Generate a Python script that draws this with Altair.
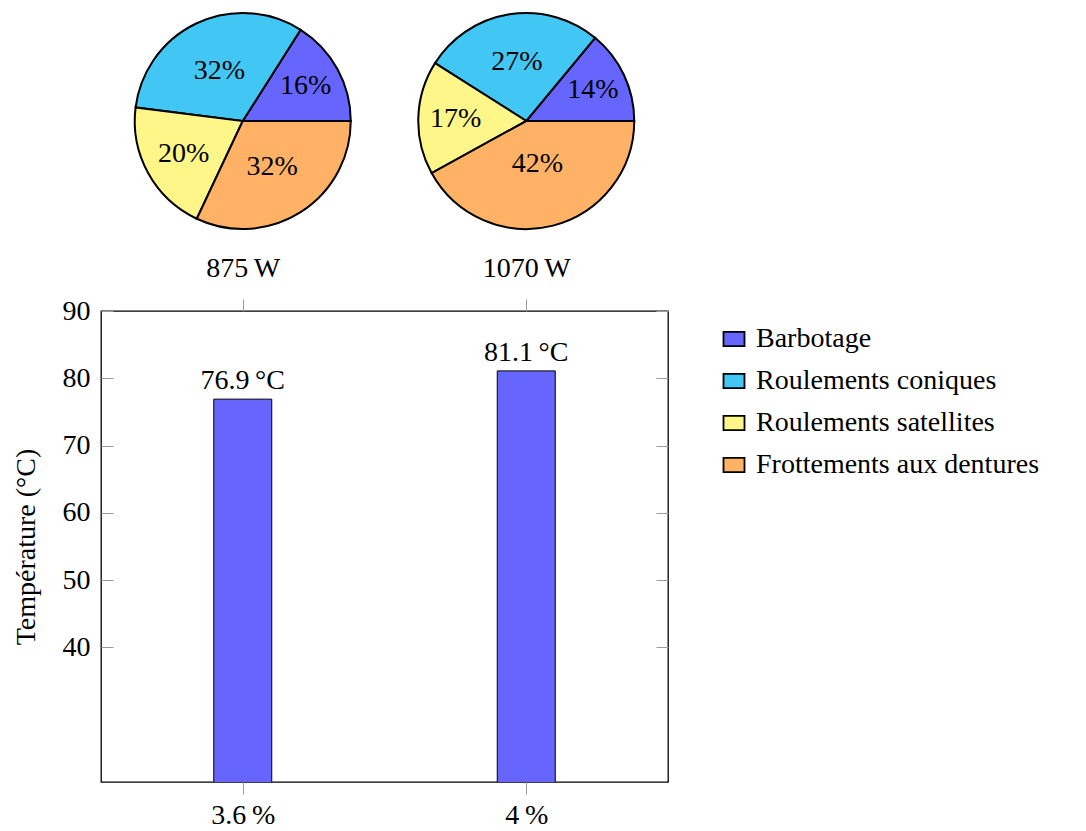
import math
import altair as alt
import pandas as pd

FONT = "Liberation Serif"
FS = 28

# ---- data ----
conditions = ["3.6\u2009%", "4\u2009%"]
powers = ["875\u2009W", "1070\u2009W"]
temperatures = [76.9, 81.1]

sources = ["Barbotage", "Roulements coniques", "Roulements satellites", "Frottements aux dentures"]
colors = ["#6666FF", "#42C6F4", "#FFF68A", "#FFB266"]
shares_875 = [16, 32, 20, 32]
shares_1070 = [14, 27, 17, 42]
y_ticks = [40, 50, 60, 70, 80, 90]

bar_df = pd.DataFrame({"cond": conditions, "power": powers, "temp": temperatures})
rows = []
for p, shares in zip(powers, [shares_875, shares_1070]):
    for i, (s, v) in enumerate(zip(sources, shares)):
        rows.append({"power": p, "source": s, "share": v, "idx": i})
pie_df = pd.DataFrame(rows)

TICK = "#9a9a9a"

# ---- pies ----
color_scale = alt.Scale(domain=sources, range=colors)
theta_scale = alt.Scale(domain=[0, 100], range=[2.5 * math.pi, 0.5 * math.pi])
xp_scale = alt.Scale(type="point", domain=powers, padding=0.5)

pie_base = alt.Chart(pie_df).transform_stack(
    stack="share", groupby=["power"], as_=["s0", "s1"],
    sort=[alt.SortField("idx", order="ascending")],
)

arcs = pie_base.mark_arc(radius=108, stroke="black", strokeWidth=2).encode(
    x=alt.X("power:N", scale=xp_scale,
            axis=alt.Axis(title=None, orient="bottom", domain=False, ticks=False,
                          labelPadding=25, labelAngle=0, labelFontSize=FS, grid=False)),
    theta=alt.Theta("s0:Q", scale=theta_scale),
    theta2=alt.Theta2("s1:Q"),
    color=alt.Color("source:N", scale=color_scale,
                    legend=alt.Legend(title=None, orient="none", legendX=619, legendY=312,
                                      padding=0,
                                      symbolType="M-1,-0.68H1V0.68H-1Z", symbolSize=441,
                                      symbolStrokeColor="black", symbolStrokeWidth=1.8,
                                      labelFontSize=FS, labelFont=FONT, labelOffset=8,
                                      labelLimit=500, rowPadding=14)),
)

pie_text = pie_base.transform_calculate(
    mid="(datum.s0 + datum.s1) / 2",
    lr="88.5 - 1.05 * datum.share",
    lbl="datum.share + '%'",
).mark_text(fontSize=FS, font=FONT, color="black", align="center", baseline="middle").encode(
    x=alt.X("power:N", scale=xp_scale),
    theta=alt.Theta("mid:Q", scale=theta_scale),
    radius=alt.Radius("lr:Q", scale=None),
    text="lbl:N",
)

pie_chart = alt.layer(arcs, pie_text).properties(
    width=567, height=216, view=alt.ViewBackground(stroke="transparent")
)

# ---- bars ----
xc_scale = alt.Scale(type="point", domain=conditions, padding=0.5)
y_scale = alt.Scale(domain=[20, 90], zero=False, nice=False)

bars = alt.Chart(bar_df).mark_bar(size=58, color="#6666FF", stroke="black",
                                  strokeWidth=1, clip=True).encode(
    x=alt.X("cond:N", scale=xc_scale,
            axis=alt.Axis(orient="bottom", title=None, domain=False, tickSize=12,
                          tickColor=TICK, labelFontSize=FS, labelPadding=7,
                          labelAngle=0, grid=False)),
    y=alt.Y("temp:Q", scale=y_scale,
            axis=alt.Axis(orient="left", title="Température (°C)", values=y_ticks,
                          offset=-12, tickSize=12, tickColor=TICK, domain=False,
                          grid=False, labelPadding=11, titlePadding=22,
                          labelFontSize=FS, titleFontSize=FS)),
)

labels = alt.Chart(bar_df).transform_calculate(
    lbl="format(datum.temp, '.1f') + '\u2009°C'"
).mark_text(fontSize=FS, font=FONT, baseline="alphabetic", dy=-10, color="black").encode(
    x=alt.X("cond:N", scale=xc_scale,
            axis=alt.Axis(orient="top", title=None, labels=False, domain=False,
                          tickSize=12, tickColor=TICK, grid=False)),
    y=alt.Y("temp:Q", scale=y_scale,
            axis=alt.Axis(orient="right", title=None, labels=False, values=y_ticks,
                          offset=-12, tickSize=12, tickColor=TICK, domain=False,
                          grid=False)),
    text="lbl:N",
)

bar_chart = alt.layer(bars, labels).resolve_axis(x="independent", y="independent").properties(
    width=567, height=471
)

chart = alt.vconcat(pie_chart, bar_chart, spacing=82, bounds="flush").properties(
    padding={"left": 3, "top": 0, "right": 5, "bottom": 0}
).configure_view(
    stroke="black", strokeWidth=1.3
).configure_axis(
    labelFont=FONT, titleFont=FONT, labelColor="black", titleColor="black",
    titleFontWeight="normal",
).configure_text(font=FONT)

chart.save("out.html", embed_options={"renderer": "svg", "actions": False})
